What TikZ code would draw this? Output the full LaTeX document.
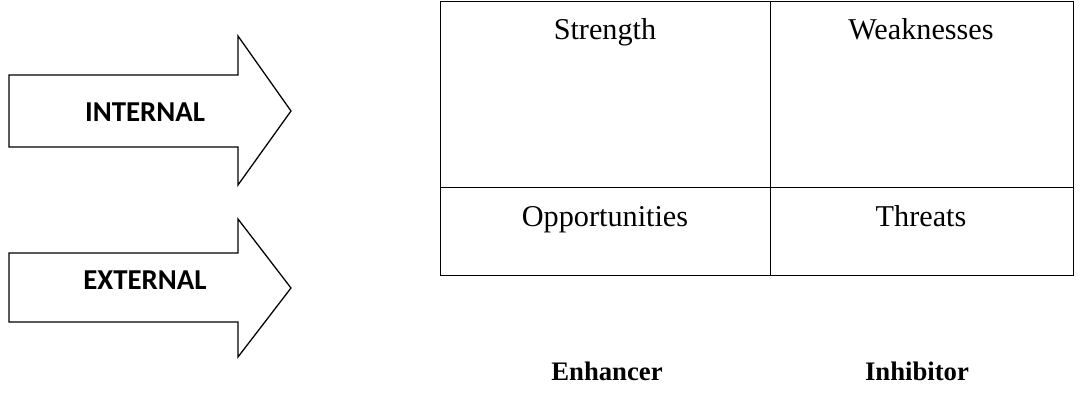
\documentclass[tikz,border=0pt]{standalone}
\usepackage{fontspec}
\setmainfont{Liberation Serif}
\newfontfamily\calfont{Carlito}
\usetikzlibrary{positioning}
\tikzset{
  bigarrow/.style={
    draw=black,
    line width=0.9pt,
    line join=miter,
    fill=white
  },
  armlabel/.style={
    font=\calfont\bfseries\fontsize{20.5}{24}\selectfont,
    inner sep=0pt
  },
  swotgrid/.style={
    draw=black,
    line width=0.7pt
  },
  celllabel/.style={
    font=\fontsize{21.5}{26}\selectfont,
    anchor=base,
    inner sep=0pt
  },
  axislabel/.style={
    font=\bfseries\fontsize{19}{23}\selectfont,
    anchor=base,
    inner sep=0pt
  }
}

\begin{document}
\begin{tikzpicture}[x=0.025cm, y=-0.025cm]
  \useasboundingbox (0,0) rectangle (1088,412);
  % arrows
  \draw[bigarrow] (9,75) -- (238,75) -- (238,36) -- (291,111) -- (238,185)
    -- (238,147) -- (9,147) -- cycle;
  \node[armlabel] (internal) at (145,112) {INTERNAL};
  \draw[bigarrow] (9,253) -- (238,253) -- (238,219) -- (291,288) -- (238,357)
    -- (238,322) -- (9,322) -- cycle;
  \node[armlabel] (external) at (145,280) {EXTERNAL};
  % swot grid
  \coordinate (nw) at (440,1);
  \coordinate (se) at (1073,275);
  \coordinate (ntop) at (770,1);
  \coordinate (nbot) at (770,275);
  \coordinate (wmid) at (440,187);
  \coordinate (emid) at (1073,187);
  \draw[swotgrid] (nw) rectangle (se);
  \draw[swotgrid] (ntop) -- (nbot);
  \draw[swotgrid] (wmid) -- (emid);
  \node[celllabel] (strength) at (605,40) {Strength};
  \node[celllabel] (weak) at (921,40) {Weaknesses};
  \node[celllabel] (opport) at (605,227) {Opportunities};
  \node[celllabel] (threat) at (921,227) {Threats};
  % columns
  \node[axislabel] (enhancer) at (607,381) {Enhancer};
  \node[axislabel] (inhibitor) at (917,381) {Inhibitor};
\end{tikzpicture}
\end{document}
